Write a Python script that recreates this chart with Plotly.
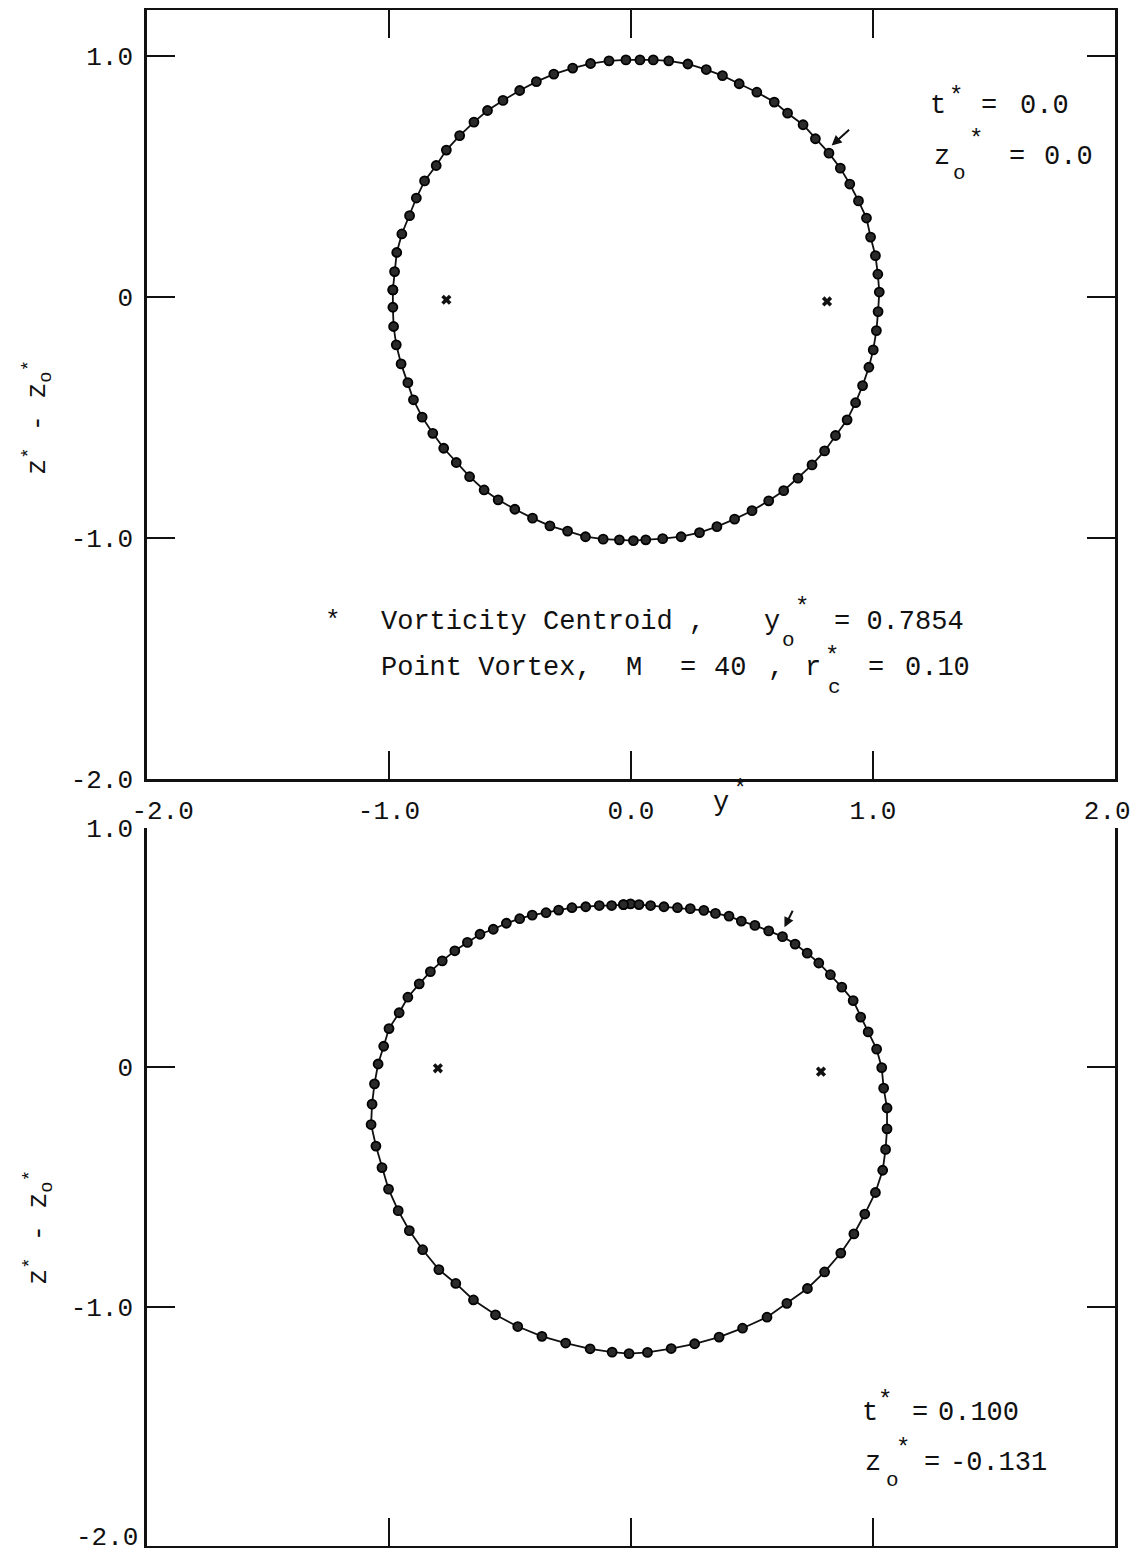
import plotly.graph_objects as go

# page is drawn inside the browser's default 8 px body margin
PAGE_W, PAGE_H = 1143, 1556
OFF = 8
W, H = PAGE_W - 2 * OFF, PAGE_H - 2 * OFF

# ---------------- data ----------------
# top panel, t* = 0.0  (horizontal: y*, vertical: z* - zo*)
top_y = [-0.984, -0.977, -0.968, -0.947, -0.915, -0.887, -0.853, -0.805, -0.763, -0.708,
         -0.649, -0.593, -0.529, -0.460, -0.391, -0.319, -0.241, -0.167, -0.091, -0.021,
         0.037, 0.092, 0.156, 0.235, 0.311, 0.378, 0.447, 0.520, 0.592, 0.647,
         0.711, 0.762, 0.818, 0.865, 0.904, 0.940, 0.973, 0.990, 1.010, 1.020,
         1.026, 1.021, 1.014, 1.001, 0.983, 0.957, 0.928, 0.893, 0.845, 0.800,
         0.748, 0.690, 0.631, 0.569, 0.500, 0.428, 0.355, 0.283, 0.207, 0.131,
         0.061, 0.010, -0.048, -0.115, -0.188, -0.262, -0.335, -0.407, -0.480, -0.549,
         -0.607, -0.667, -0.722, -0.774, -0.819, -0.863, -0.899, -0.922, -0.950, -0.970,
         -0.981, -0.984]
top_z = [0.029, 0.105, 0.184, 0.261, 0.337, 0.410, 0.481, 0.545, 0.609, 0.669,
         0.725, 0.773, 0.815, 0.856, 0.893, 0.924, 0.949, 0.968, 0.979, 0.983,
         0.983, 0.983, 0.979, 0.966, 0.943, 0.918, 0.884, 0.849, 0.808, 0.762,
         0.714, 0.656, 0.596, 0.534, 0.468, 0.398, 0.327, 0.248, 0.171, 0.094,
         0.020, -0.061, -0.140, -0.220, -0.292, -0.368, -0.439, -0.510, -0.575, -0.639,
         -0.697, -0.752, -0.804, -0.846, -0.887, -0.922, -0.953, -0.978, -0.995, -1.003,
         -1.008, -1.011, -1.008, -1.005, -0.995, -0.972, -0.950, -0.918, -0.881, -0.842,
         -0.801, -0.746, -0.687, -0.628, -0.566, -0.499, -0.427, -0.356, -0.278, -0.199,
         -0.123, -0.043]

# bottom panel, t* = 0.100
bot_y = [-0.031, -0.002, 0.033, 0.081, 0.136, 0.192, 0.245, 0.301, 0.349, 0.405,
         0.456, 0.512, 0.569, 0.626, 0.678, 0.728, 0.776, 0.824, 0.871, 0.918,
         0.949, 0.980, 1.015, 1.036, 1.044, 1.058, 1.058, 1.052, 1.040, 1.010,
         0.966, 0.921, 0.867, 0.800, 0.729, 0.644, 0.562, 0.461, 0.364, 0.263,
         0.166, 0.068, -0.008, -0.078, -0.169, -0.270, -0.368, -0.468, -0.560, -0.651,
         -0.724, -0.794, -0.861, -0.916, -0.962, -1.002, -1.029, -1.054, -1.074, -1.070,
         -1.060, -1.045, -1.022, -1.000, -0.958, -0.922, -0.875, -0.829, -0.780, -0.728,
         -0.676, -0.624, -0.569, -0.515, -0.460, -0.408, -0.351, -0.299, -0.244, -0.187,
         -0.131, -0.080]
bot_z = [0.680, 0.683, 0.680, 0.676, 0.671, 0.667, 0.663, 0.656, 0.643, 0.632,
         0.611, 0.593, 0.570, 0.546, 0.515, 0.477, 0.436, 0.387, 0.335, 0.279,
         0.210, 0.148, 0.076, -0.001, -0.087, -0.170, -0.257, -0.343, -0.430, -0.523,
         -0.613, -0.696, -0.776, -0.855, -0.924, -0.986, -1.044, -1.090, -1.127, -1.155,
         -1.175, -1.191, -1.196, -1.190, -1.176, -1.152, -1.124, -1.083, -1.034, -0.972,
         -0.903, -0.845, -0.762, -0.682, -0.599, -0.509, -0.419, -0.329, -0.239, -0.154,
         -0.069, 0.014, 0.088, 0.162, 0.228, 0.293, 0.349, 0.400, 0.445, 0.487,
         0.522, 0.556, 0.577, 0.602, 0.621, 0.636, 0.646, 0.657, 0.667, 0.671,
         0.676, 0.676]

# vorticity centroids
top_cent_y = [-0.763, 0.810]
top_cent_z = [-0.012, -0.019]
bot_cent_y = [-0.798, 0.785]
bot_cent_z = [-0.004, -0.018]

# marked (arrowed) vortex
top_arrow = (0.829, 0.628)
bot_arrow = (0.634, 0.585)

x_tickvals = [-2, -1, 0, 1, 2]
x_ticktext = ["\u00a0\u00a0-2.0", "-1.0", "0.0", "1.0", "2.0\u00a0"]
y_tickvals = [-2, -1, 0, 1]
y_ticktext = ["-2.0", "-1.0", "0", "1.0"]
# the lowest label of the bottom panel sits on the page edge; it is drawn as text below
y2_ticktext = ["", "-1.0", "0", "1.0"]
y2_bottom_label = "-2.0"

# ---------------- figure ----------------
FONT = "Liberation Mono"
INK = "#111111"


def X(px):
    return (px - OFF) / W


def Y(py):
    return 1 - (py - OFF) / H


fig = go.Figure()

for ys, zs, xa, ya in [(top_y, top_z, "x", "y"), (bot_y, bot_z, "x2", "y2")]:
    fig.add_trace(go.Scatter(
        x=ys + ys[:1], y=zs + zs[:1], xaxis=xa, yaxis=ya,
        mode="lines+markers",
        line=dict(color=INK, width=1.8),
        marker=dict(size=9, color="#2a2a2a", line=dict(color="#000000", width=1.8)),
        hoverinfo="skip", showlegend=False))

for cy, cz, xa, ya in [(top_cent_y, top_cent_z, "x", "y"), (bot_cent_y, bot_cent_z, "x2", "y2")]:
    fig.add_trace(go.Scatter(
        x=cy, y=cz, xaxis=xa, yaxis=ya, mode="markers",
        marker=dict(symbol="x", size=9, color=INK),
        hoverinfo="skip", showlegend=False))

axis_common = dict(
    showgrid=False, zeroline=False, showline=True, linecolor=INK, linewidth=2.5,
    ticks="inside", ticklen=28, tickwidth=2, tickcolor=INK, automargin=False,
    ticklabeloverflow="allow",
    tickfont=dict(family=FONT, size=26, color=INK),
)

x_dom = [X(147), X(1115)]

fig.update_layout(
    width=W, height=H,
    margin=dict(l=0, r=0, t=0, b=0, autoexpand=False),
    paper_bgcolor="white", plot_bgcolor="white",
    showlegend=False,
    xaxis=dict(domain=x_dom, range=[-2, 2], anchor="y", mirror="ticks",
               tickvals=x_tickvals, ticktext=x_ticktext, ticklabelstandoff=6,
               **axis_common),
    yaxis=dict(domain=[Y(779), Y(10)], range=[-2, 1.19], anchor="x", mirror="ticks",
               tickvals=y_tickvals, ticktext=y_ticktext, ticklabelstandoff=6,
               **axis_common),
    xaxis2=dict(domain=x_dom, range=[-2, 2], anchor="y2", mirror=False,
                tickvals=[-1, 0, 1], showticklabels=False, **axis_common),
    yaxis2=dict(domain=[Y(1546), Y(828)], range=[-2, 1.0], anchor="x2", mirror="ticks",
                tickvals=y_tickvals, ticktext=y2_ticktext, ticklabelstandoff=6,
                **axis_common),
)

ann = []


def txt(s, px, py, size=27, xanchor="left", angle=0):
    ann.append(dict(text=s, x=X(px), y=Y(py), xref="paper", yref="paper",
                    xanchor=xanchor, yanchor="middle", showarrow=False,
                    textangle=angle,
                    font=dict(family=FONT, size=size, color=INK)))


def star(px, py, size=24):
    # glyph centre placed at (px, py); the asterisk sits high in its box
    txt("*", px, py + 0.28 * size, size=size, xanchor="center")


# lowest tick label of the bottom panel
ann.append(dict(text=y2_bottom_label, x=X(140), y=Y(1538), xref="paper", yref="paper",
                xanchor="right", yanchor="middle", showarrow=False,
                font=dict(family=FONT, size=26, color=INK)))

# top-right labels
txt("t", 928, 106)
star(956, 90)
txt("=", 979, 106)
txt("0.0", 1018, 106)
txt("z", 932, 157)
txt("o", 959, 174, size=21, xanchor="center")
star(976, 133)
txt("=", 1007, 157)
txt("0.0", 1042, 157)

# legend block
star(333, 614, size=26)
txt("Vorticity Centroid ,", 379, 622)
txt("y", 762, 622)
txt("o", 788, 640, size=21, xanchor="center")
star(802, 601)
txt("= 0.7854", 832, 622)
txt("Point Vortex,", 379, 668)
txt("M", 624, 668)
txt("=", 678, 668)
txt("40", 712, 668)
txt(",", 766, 668)
txt("r", 803, 668)
txt("c", 834, 688, size=21, xanchor="center")
star(832, 650)
txt("=", 866, 668)
txt("0.10", 903, 668)

# x title
txt("y", 711, 803)
star(740, 783)

# bottom-right labels
txt("t", 860, 1413)
star(885, 1394)
txt("=", 910, 1413)
txt("0.100", 936, 1413)
txt("z", 863, 1463)
txt("o", 892, 1480, size=21, xanchor="center")
star(903, 1442)
txt("=", 922, 1463)
txt("-0.131", 948, 1463)

# y titles (rotated)
ytitle = "z<sup>*</sup> - z<sub>o</sub><sup>*</sup>"
txt(ytitle, 38, 418, xanchor="center", angle=-90)
txt(ytitle, 38, 1228, xanchor="center", angle=-90)

# arrows to the tagged vortex
ann.append(dict(x=top_arrow[0], y=top_arrow[1], xref="x", yref="y", text="",
                showarrow=True, arrowhead=2, arrowsize=1, arrowwidth=2,
                arrowcolor=INK, ax=19, ay=-17, standoff=0))
ann.append(dict(x=bot_arrow[0], y=bot_arrow[1], xref="x2", yref="y2", text="",
                showarrow=True, arrowhead=2, arrowsize=1, arrowwidth=2,
                arrowcolor=INK, ax=9, ay=-18, standoff=0))

fig.update_layout(annotations=ann)

fig.write_html("out.html")
